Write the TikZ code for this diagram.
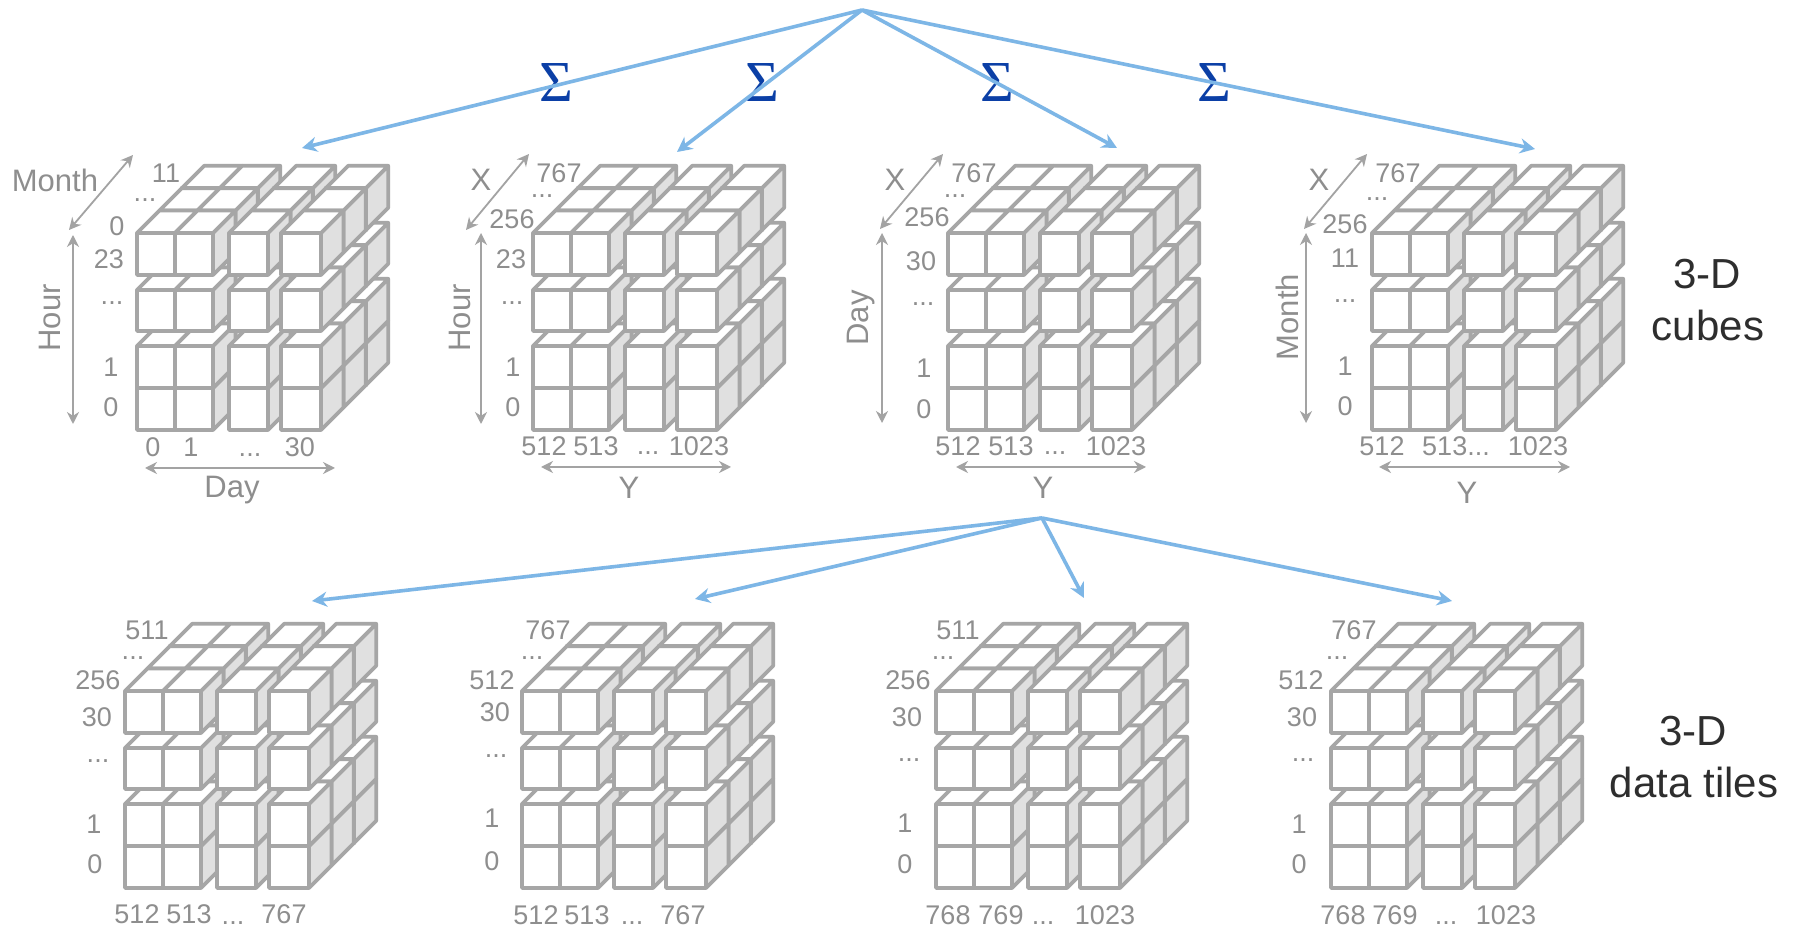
\documentclass[tikz,border=0pt]{standalone}
\usepackage{fontspec}
\setmainfont{Liberation Sans}
\newfontfamily\sigmafont{Liberation Serif}
\usetikzlibrary{arrows.meta}
\definecolor{cubeline}{HTML}{A6A6A6}
\definecolor{cubeside}{HTML}{E0E0E0}
\definecolor{labelgray}{HTML}{8E8E8E}
\definecolor{axisgray}{HTML}{A3A3A3}
\definecolor{flowblue}{HTML}{7DB6E6}
\definecolor{sigmablue}{HTML}{0B3FA6}
\definecolor{sidetext}{HTML}{2E2E2E}
\tikzset{
  num/.style={inner sep=0pt,text=labelgray,font=\fontsize{13.5}{14}\selectfont},
  axisname/.style={inner sep=0pt,text=labelgray,font=\fontsize{15.5}{16}\selectfont},
  sidelabel/.style={inner sep=0pt,text=sidetext,font=\fontsize{21}{22}\selectfont},
  sigmalabel/.style={inner sep=0pt,text=sigmablue,font=\sigmafont\fontsize{29}{30}\selectfont},
  axisline/.style={draw=axisgray,line width=0.9pt,{Stealth[length=6pt,width=6pt]}-{Stealth[length=6pt,width=6pt]}},
  flow/.style={draw=flowblue,line width=1.8pt,-{Stealth[length=7.5pt,width=7.5pt]}},
  face/.style={draw=cubeline,line width=1.85pt,line join=round,fill=white},
  sideface/.style={draw=cubeline,line width=1.85pt,line join=round,fill=cubeside}
}
\newcommand{\datacube}[2]{%
  \begin{scope}[shift={(#1,#2)}]
    \foreach \d in {44.8,22.4,0} {
      \foreach \ya/\yb in {155/197,113/155,57/98,0/42} {
        \foreach \xa/\xb in {0/38,38/76,92/131,144/184} {
          \pgfmathsetmacro{\e}{\d+22.4}
          \draw[sideface] (\xb+\d,\ya-\d) -- (\xb+\e,\ya-\e) -- (\xb+\e,\yb-\e) -- (\xb+\d,\yb-\d) -- cycle;
          \draw[face] (\xa+\d,\ya-\d) -- (\xa+\e,\ya-\e) -- (\xb+\e,\ya-\e) -- (\xb+\d,\ya-\d) -- cycle;
          \draw[face] (\xa+\d,\ya-\d) rectangle (\xb+\d,\yb-\d);
        }
      }
    }
  \end{scope}%
}
\newcommand{\lab}[4]{\node[num] (#1) at (#2,#3) {#4};}
\newcommand{\axn}[5][0]{\node[axisname,rotate=#1] (#2) at (#3,#4) {#5};}
\newcommand{\axl}[5]{\coordinate (#1a) at (#2,#3); \coordinate (#1b) at (#4,#5); \draw[axisline] (#1a) -- (#1b);}
\begin{document}
\begin{tikzpicture}[x=0.5pt,y=-0.5pt]
\useasboundingbox (0,0) rectangle (1796,930);
\fill[white] (0,0) rectangle (1796,930);

% cubes, top row
\datacube{137}{233}
\datacube{533}{233}
\datacube{948}{233}
\datacube{1372}{233}
% cubes, bottom row
\datacube{125}{691}
\datacube{522}{691}
\datacube{936}{691}
\datacube{1331}{691}

% sigma labels
\node[sigmalabel] (s1) at (556,83) {Σ};
\node[sigmalabel] (s2) at (762,83) {Σ};
\node[sigmalabel] (s3) at (997,83) {Σ};
\node[sigmalabel] (s4) at (1214,83) {Σ};

% flow arrows
\coordinate (apexA) at (862,10);
\coordinate (ta1) at (302,148);
\coordinate (ta2) at (677,152);
\coordinate (ta3) at (1117,148);
\coordinate (ta4) at (1535,149);
\foreach \t in {ta1,ta2,ta3,ta4} \draw[flow] (apexA) -- (\t);
\coordinate (apexB) at (1042,518);
\coordinate (tb1) at (312,601);
\coordinate (tb2) at (695,599);
\coordinate (tb3) at (1084,598);
\coordinate (tb4) at (1452,601);
\foreach \t in {tb1,tb2,tb3,tb4} \draw[flow] (apexB) -- (\t);

% cube 1
\axn{c1z}{55}{180}{Month}
\lab{c1a}{166}{173}{11}
\lab{c1b}{145}{200}{...}
\lab{c1c}{117}{226}{0}
\lab{c1d}{109}{259}{23}
\lab{c1e}{112}{303}{...}
\lab{c1f}{111}{367}{1}
\lab{c1g}{111}{407}{0}
\axn[90]{c1y}{50}{318}{Hour}
\lab{c1h}{153}{447}{0}
\lab{c1i}{191}{447}{1}
\lab{c1j}{250}{455}{...}
\lab{c1k}{300}{447}{30}
\axn{c1x}{232}{490}{Day}
\axl{c1p}{133}{155}{69}{230}
\axl{c1q}{73}{235}{73}{424}
\axl{c1r}{145}{468}{335}{468}

% cube 2
\axn{c2z}{481}{180}{X}
\lab{c2a}{559}{173}{767}
\lab{c2b}{542}{196}{...}
\lab{c2c}{512}{219}{256}
\lab{c2d}{511}{259}{23}
\lab{c2e}{512}{303}{...}
\lab{c2f}{513}{367}{1}
\lab{c2g}{513}{407}{0}
\axn[90]{c2y}{460}{318}{Hour}
\lab{c2h}{544}{446}{512}
\lab{c2i}{596}{446}{513}
\lab{c2j}{648}{453}{...}
\lab{c2k}{699}{446}{1023}
\axn{c2x}{629}{488}{Y}
\axl{c2p}{529}{154}{466}{230}
\axl{c2q}{481}{233}{481}{424}
\axl{c2r}{541}{467}{731}{467}

% cube 3
\axn{c3z}{895}{180}{X}
\lab{c3a}{974}{173}{767}
\lab{c3b}{955}{196}{...}
\lab{c3c}{927}{217}{256}
\lab{c3d}{921}{261}{30}
\lab{c3e}{923}{304}{...}
\lab{c3f}{924}{368}{1}
\lab{c3g}{924}{409}{0}
\axn[90]{c3y}{861}{318}{Day}
\lab{c3h}{958}{446}{512}
\lab{c3i}{1011}{446}{513}
\lab{c3j}{1055}{453}{...}
\lab{c3k}{1116}{446}{1023}
\axn{c3x}{1043}{488}{Y}
\axl{c3p}{943}{154}{880}{229}
\axl{c3q}{882}{233}{882}{423}
\axl{c3r}{956}{467}{1146}{467}

% cube 4
\axn{c4z}{1319}{180}{X}
\lab{c4a}{1398}{173}{767}
\lab{c4b}{1377}{199}{...}
\lab{c4c}{1345}{224}{256}
\lab{c4d}{1345}{258}{11}
\lab{c4e}{1345}{301}{...}
\lab{c4f}{1345}{366}{1}
\lab{c4g}{1345}{406}{0}
\axn[90]{c4y}{1287}{317}{Month}
\lab{c4h}{1382}{446}{512}
\lab{c4i}{1456}{446}{513...}
\lab{c4k}{1538}{446}{1023}
\axn{c4x}{1467}{493}{Y}
\axl{c4p}{1367}{154}{1304}{229}
\axl{c4q}{1306}{233}{1306}{423}
\axl{c4r}{1379}{467}{1570}{467}

% tile 1
\lab{t1a}{147}{630}{511}
\lab{t1b}{133}{658}{...}
\lab{t1c}{98}{680}{256}
\lab{t1d}{97}{717}{30}
\lab{t1e}{98}{761}{...}
\lab{t1f}{94}{824}{1}
\lab{t1g}{95}{864}{0}
\lab{t1h}{137}{914}{512}
\lab{t1i}{189}{914}{513}
\lab{t1j}{233}{923}{...}
\lab{t1k}{284}{914}{767}

% tile 2
\lab{t2a}{548}{630}{767}
\lab{t2b}{532}{658}{...}
\lab{t2c}{492}{680}{512}
\lab{t2d}{495}{712}{30}
\lab{t2e}{496}{756}{...}
\lab{t2f}{492}{818}{1}
\lab{t2g}{492}{861}{0}
\lab{t2h}{536}{915}{512}
\lab{t2i}{587}{915}{513}
\lab{t2j}{632}{923}{...}
\lab{t2k}{683}{915}{767}

% tile 3
\lab{t3a}{958}{630}{511}
\lab{t3b}{943}{658}{...}
\lab{t3c}{908}{680}{256}
\lab{t3d}{907}{717}{30}
\lab{t3e}{909}{760}{...}
\lab{t3f}{905}{823}{1}
\lab{t3g}{905}{864}{0}
\lab{t3h}{948}{915}{768}
\lab{t3i}{1001}{915}{769}
\lab{t3j}{1043}{923}{...}
\lab{t3k}{1105}{915}{1023}

% tile 4
\lab{t4a}{1354}{630}{767}
\lab{t4b}{1337}{658}{...}
\lab{t4c}{1301}{680}{512}
\lab{t4d}{1302}{717}{30}
\lab{t4e}{1303}{760}{...}
\lab{t4f}{1299}{824}{1}
\lab{t4g}{1299}{864}{0}
\lab{t4h}{1343}{915}{768}
\lab{t4i}{1395}{915}{769}
\lab{t4j}{1446}{923}{...}
\lab{t4k}{1506}{915}{1023}

% side labels
\node[sidelabel] (r1) at (1707,274) {3-D};
\node[sidelabel] (r2) at (1708,325) {cubes};
\node[sidelabel] (r3) at (1693,731) {3-D};
\node[sidelabel] (r4) at (1694,782) {data tiles};
\end{tikzpicture}
\end{document}
